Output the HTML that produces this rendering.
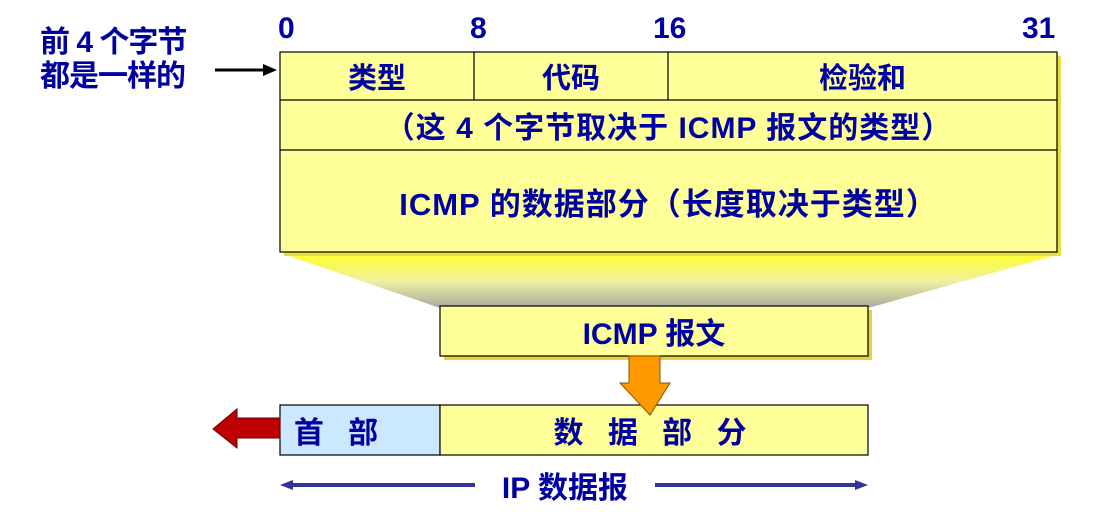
<!DOCTYPE html>
<html><head><meta charset="utf-8"><style>
body{margin:0;width:1114px;height:529px;background:#fff;position:relative;overflow:hidden;font-family:"Liberation Sans","Noto Sans CJK SC",sans-serif;font-weight:bold;color:#0000a0}
.a{position:absolute}
.c{position:absolute;display:flex;align-items:center;justify-content:center;box-sizing:border-box;white-space:nowrap}
</style></head><body>
<svg class="a" style="left:0;top:0" width="1114" height="529">
<defs><linearGradient id="g" x1="0" y1="0" x2="0" y2="1"><stop offset="0" stop-color="#ffff30"/><stop offset="0.5" stop-color="#f0f0a0"/><stop offset="1" stop-color="#a8a8a0"/></linearGradient></defs>
<polygon points="283,254 1060,254 868,308 440,308" fill="url(#g)"/>
<rect x="284" y="56" width="777" height="200" fill="#e8e040"/>
<rect x="280" y="52" width="777" height="200" fill="#ffff99" stroke="#000" stroke-width="1.2"/>
<line x1="280" y1="100" x2="1057" y2="100" stroke="#000" stroke-width="1.2"/>
<line x1="280" y1="150" x2="1057" y2="150" stroke="#000" stroke-width="1.2"/>
<line x1="474" y1="52" x2="474" y2="100" stroke="#000" stroke-width="1.2"/>
<line x1="668" y1="52" x2="668" y2="100" stroke="#000" stroke-width="1.2"/>
<rect x="444" y="310" width="428" height="50" fill="#e8d040"/>
<rect x="440" y="306" width="428" height="50" fill="#ffff99" stroke="#000" stroke-width="1.2"/>
<rect x="280" y="405" width="160" height="50" fill="#cce8ff" stroke="#000" stroke-width="1.2"/>
<rect x="440" y="405" width="428" height="50" fill="#ffff99" stroke="#000" stroke-width="1.2"/>
<polygon points="629,356 660,356 660,383 670,383 650,415 620,383 629,383" fill="#ff9900" stroke="#885500" stroke-width="1"/>
<polygon points="280,418 237,418 237,409 213,429 237,448 237,438 280,438" fill="#c00000" stroke="#600" stroke-width="1"/>
<line x1="215" y1="70" x2="265" y2="70" stroke="#000" stroke-width="3"/>
<polygon points="277,70 263,64 263,76" fill="#000"/>
<line x1="288" y1="485" x2="475" y2="485" stroke="#333399" stroke-width="4"/>
<polygon points="280,485 293,480 293,490" fill="#333399"/>
<line x1="655" y1="485" x2="860" y2="485" stroke="#333399" stroke-width="4"/>
<polygon points="868,485 855,480 855,490" fill="#333399"/>
</svg>
<div class="a" style="left:40px;top:26px;font-size:30px;line-height:34px;width:200px;white-space:nowrap;letter-spacing:-1px">前 4 个字节<br>都是一样的</div>
<div class="a" style="left:278px;top:12px;font-size:30px">0</div>
<div class="a" style="left:470px;top:12px;font-size:30px">8</div>
<div class="a" style="left:653px;top:12px;font-size:30px">16</div>
<div class="a" style="left:1022px;top:12px;font-size:30px">31</div>
<div class="c" style="left:280px;top:52px;width:194px;height:48px;font-size:29px">类型</div>
<div class="c" style="left:474px;top:52px;width:194px;height:48px;font-size:29px">代码</div>
<div class="c" style="left:668px;top:52px;width:389px;height:48px;font-size:29px">检验和</div>
<div class="c" style="left:280px;top:100px;width:777px;height:50px;font-size:30px;letter-spacing:1px">（这 4 个字节取决于 ICMP 报文的类型）</div>
<div class="c" style="left:280px;top:150px;width:777px;height:102px;font-size:31px;letter-spacing:1px">ICMP 的数据部分（长度取决于类型）</div>
<div class="c" style="left:440px;top:306px;width:428px;height:50px;font-size:30px">ICMP 报文</div>
<div class="c" style="left:280px;top:405px;width:160px;height:50px;font-size:30px;letter-spacing:8px;padding-right:40px">首 部</div>
<div class="c" style="left:440px;top:405px;width:428px;height:50px;font-size:30px;letter-spacing:8px">数 据 部 分</div>
<div class="c" style="left:475px;top:466px;width:180px;height:38px;font-size:30px">IP 数据报</div>
</body></html>
